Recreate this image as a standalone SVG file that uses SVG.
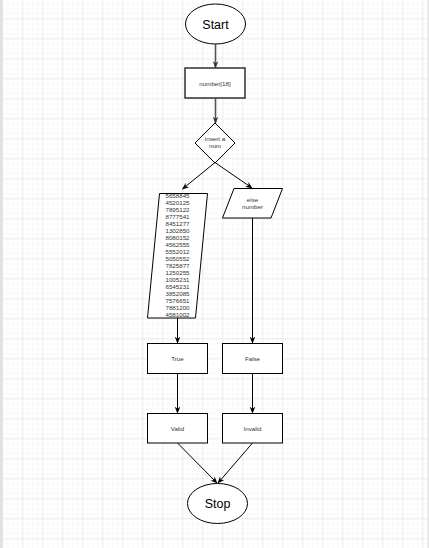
<svg xmlns="http://www.w3.org/2000/svg" width="429" height="548" viewBox="0 0 429 548">
  <defs>
    <pattern id="minor" x="2.3" y="-1.7" width="5" height="5" patternUnits="userSpaceOnUse">
      <path d="M0 0H5M0 0V5" fill="none" stroke="#f3f3f3" stroke-width="1"/>
    </pattern>
    <pattern id="major" x="2.3" y="-1.7" width="20" height="20" patternUnits="userSpaceOnUse">
      <path d="M0 0H20M0 0V20" fill="none" stroke="#e2e2e2" stroke-width="1"/>
    </pattern>
    <marker id="arr" viewBox="0 0 10 10" refX="9" refY="5" markerWidth="7" markerHeight="7" markerUnits="userSpaceOnUse" orient="auto">
      <path d="M0 1 L10 5 L0 9 L3 5 Z" fill="#000"/>
    </marker>
    <marker id="arrg" viewBox="0 0 10 10" refX="9" refY="5" markerWidth="7" markerHeight="7" markerUnits="userSpaceOnUse" orient="auto">
      <path d="M0 1 L10 5 L0 9 L3 5 Z" fill="#333"/>
    </marker>
  </defs>
  <style>
    .shape { fill: #fff; stroke: #000; stroke-width: 1; }
    .thick { fill: #fff; stroke: #222; stroke-width: 1.4; }
    .edge { fill: none; stroke: #000; stroke-width: 1; }
    .edgeg { fill: none; stroke: #555; stroke-width: 1.6; }
    .big { font-family: "Liberation Sans", Arial, sans-serif; font-size: 12.5px; fill: #000; text-anchor: middle; }
    .sm { font-family: "Liberation Sans", Arial, sans-serif; font-size: 6.2px; fill: #333; text-anchor: middle; }
  </style>
  <rect width="429" height="548" fill="#fff"/>
  <rect width="429" height="548" fill="url(#minor)"/>
  <rect width="429" height="548" fill="url(#major)"/>
  <rect x="0" y="0" width="2.5" height="548" fill="#e0e0e0"/>
  <rect x="427.5" y="0" width="1.5" height="548" fill="#e6e6e6"/>

  <g id="connectors">
    <path class="edgeg" d="M215.5 44 V67.5" marker-end="url(#arrg)"/>
    <path class="edgeg" d="M215.5 98.5 V123" marker-end="url(#arrg)"/>
    <path class="edge" d="M215 162.5 L182.5 189" marker-end="url(#arr)"/>
    <path class="edge" d="M215 162.5 L252 188" marker-end="url(#arr)"/>
    <path class="edge" d="M177.5 318 V343" marker-end="url(#arr)"/>
    <path class="edge" d="M252.5 218 V343" marker-end="url(#arr)"/>
    <path class="edge" d="M177.5 373.5 V413" marker-end="url(#arr)"/>
    <path class="edge" d="M252.5 373.5 V413" marker-end="url(#arr)"/>
    <path class="edge" d="M177.5 443 L217 483" marker-end="url(#arr)"/>
    <path class="edge" d="M252.5 443 L218 483" marker-end="url(#arr)"/>
  </g>

  <g id="start">
    <ellipse class="shape" cx="215.5" cy="24" rx="30" ry="20"/>
    <text class="big" x="215.5" y="28.5">Start</text>
  </g>
  <g id="number">
    <rect class="thick" x="185" y="68" width="60" height="30"/>
    <text class="sm" x="215" y="85.5">number[18]</text>
  </g>
  <g id="insert">
    <path class="shape" d="M215 123 L235 143 L215 163 L195 143 Z" stroke="#333" stroke-width="1.2"/>
    <text class="sm" x="215" y="141">insert a</text>
    <text class="sm" x="215" y="148">num</text>
  </g>
  <g id="list">
    <path class="shape" d="M159.5 193.5 L207.5 193.5 L195.5 318 L147.5 318 Z"/>
    <text class="sm" x="177.5" y="198">5658845</text>
    <text class="sm" x="177.5" y="205">4520125</text>
    <text class="sm" x="177.5" y="212">7895122</text>
    <text class="sm" x="177.5" y="219">8777541</text>
    <text class="sm" x="177.5" y="226">8451277</text>
    <text class="sm" x="177.5" y="233">1302850</text>
    <text class="sm" x="177.5" y="240">8080152</text>
    <text class="sm" x="177.5" y="247">4562555</text>
    <text class="sm" x="177.5" y="254">5552012</text>
    <text class="sm" x="177.5" y="261">5050552</text>
    <text class="sm" x="177.5" y="268">7825877</text>
    <text class="sm" x="177.5" y="275">1250255</text>
    <text class="sm" x="177.5" y="282">1005231</text>
    <text class="sm" x="177.5" y="289">6545231</text>
    <text class="sm" x="177.5" y="296">3852085</text>
    <text class="sm" x="177.5" y="303">7576651</text>
    <text class="sm" x="177.5" y="310">7881200</text>
    <text class="sm" x="177.5" y="317">4581002</text>
  </g>
  <g id="else">
    <path class="shape" d="M234 188.5 L282.5 188.5 L271 218 L222.5 218 Z"/>
    <text class="sm" x="252.5" y="201.5">else</text>
    <text class="sm" x="252.5" y="208.5">number</text>
  </g>
  <g id="true">
    <rect class="shape" x="147.5" y="343.5" width="60" height="30"/>
    <text class="sm" x="177.5" y="360.5">True</text>
  </g>
  <g id="false">
    <rect class="shape" x="222.5" y="343.5" width="60" height="30"/>
    <text class="sm" x="252.5" y="360.5">False</text>
  </g>
  <g id="valid">
    <rect class="shape" x="147.5" y="413.5" width="60" height="29.5"/>
    <text class="sm" x="177.5" y="430.5">Valid</text>
  </g>
  <g id="invalid">
    <rect class="shape" x="222.5" y="413.5" width="60" height="29.5"/>
    <text class="sm" x="252.5" y="430.5">Invalid</text>
  </g>
  <g id="stop">
    <ellipse class="shape" cx="217.5" cy="503.5" rx="30" ry="20"/>
    <text class="big" x="217.5" y="508">Stop</text>
  </g>
</svg>
